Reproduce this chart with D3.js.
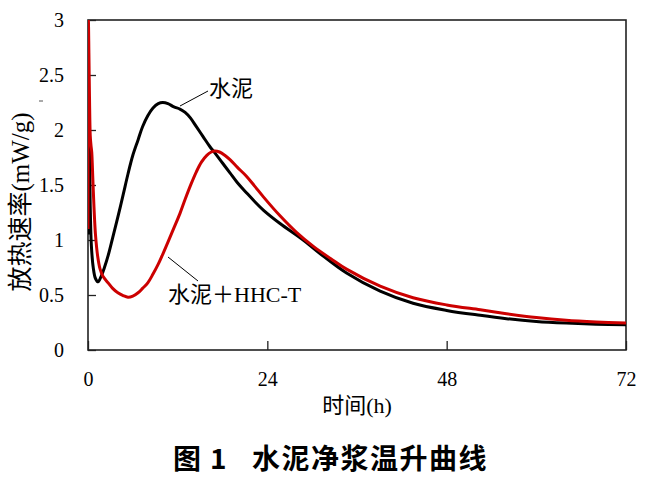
<!DOCTYPE html>
<html><head><meta charset="utf-8">
<script src="https://cdn.jsdelivr.net/npm/d3@7"></script>
<style>body{margin:0;background:#fff}svg{display:block}</style>
</head><body>
<script>
const xTicks = [0, 24, 48, 72];
const yTicks = [0, 0.5, 1, 1.5, 2, 2.5, 3];
const yTickLabels = ["0", "0.5", "1", "1.5", "2", "2.5", "3"];
const seriesNames = ["水泥", "水泥＋HHC-T"];
const cementT = [0, 0.1, 0.2, 0.3, 0.45, 0.7, 1.0, 1.35, 1.7, 2.2, 2.7, 3.3, 4.0, 4.7, 5.35, 6.0, 6.7, 7.3, 8.0, 8.7, 9.4, 10.0, 10.7, 11.5, 12.3, 13.0, 13.7, 14.5, 15.4, 16.3, 17.0, 18.0, 19.0, 20.0, 21.2, 22.3, 23.5, 25.7, 28.8, 31, 34.6, 39.1, 43.5, 48, 52.5, 56, 60, 64, 68, 72];
const cementV = [1.05, 1.4, 1.86, 1.3, 0.95, 0.75, 0.65, 0.62, 0.66, 0.75, 0.86, 1.02, 1.21, 1.41, 1.6, 1.77, 1.91, 2.03, 2.13, 2.2, 2.24, 2.25, 2.24, 2.21, 2.19, 2.16, 2.11, 2.03, 1.94, 1.85, 1.79, 1.70, 1.61, 1.52, 1.43, 1.35, 1.27, 1.15, 1.0, 0.88, 0.70, 0.535, 0.425, 0.36, 0.315, 0.285, 0.26, 0.245, 0.235, 0.23];
const hhcT = [0, 0.05, 0.12, 0.2, 0.3, 0.4, 0.5, 0.65, 0.8, 1.0, 1.3, 1.6, 2.0, 2.7, 3.3, 4.0, 4.7, 5.35, 6.0, 6.7, 7.3, 8.0, 8.7, 9.4, 10.0, 10.7, 11.5, 12.3, 13.0, 13.8, 14.5, 15.2, 15.9, 16.5, 17.0, 17.6, 18.3, 19.0, 20.0, 21.2, 22.3, 23.5, 25.7, 27.9, 30.2, 32.5, 34.6, 39.1, 43.5, 48, 52.5, 56, 60, 64, 68, 72];
const hhcV = [1.1, 3.0, 2.7, 2.3, 1.95, 1.86, 1.8, 1.55, 1.3, 1.05, 0.85, 0.74, 0.67, 0.61, 0.56, 0.52, 0.495, 0.48, 0.49, 0.52, 0.56, 0.61, 0.69, 0.78, 0.87, 0.98, 1.11, 1.24, 1.37, 1.51, 1.62, 1.71, 1.77, 1.80, 1.81, 1.80, 1.77, 1.73, 1.66, 1.58, 1.49, 1.39, 1.22, 1.07, 0.94, 0.83, 0.735, 0.58, 0.475, 0.41, 0.365, 0.33, 0.295, 0.27, 0.255, 0.245];

const W = 648, H = 483;
const m = {l: 88, t: 20, r: 22, b: 133};
const iw = W - m.l - m.r, ih = H - m.t - m.b;
const svg = d3.select("body").append("svg").attr("width", W).attr("height", H);
const x = d3.scaleLinear().domain([0, 72]).range([0, iw]);
const y = d3.scaleLinear().domain([0, 3]).range([ih, 0]);
const g = svg.append("g").attr("transform", `translate(${m.l},${m.t})`);
const serif = "'Liberation Serif','Times New Roman','Noto Sans CJK SC',serif";
const cjk = "'Noto Sans CJK SC',sans-serif";

g.append("clipPath").attr("id", "c").append("rect").attr("width", iw).attr("height", ih);

// axes
const yAx = g.append("g").call(d3.axisLeft(y).tickValues(yTicks).tickSizeInner(-8).tickSizeOuter(0).tickPadding(24)
  .tickFormat((d, i) => yTickLabels[i]));
const xAx = g.append("g").attr("transform", `translate(0,${ih})`)
  .call(d3.axisBottom(x).tickValues(xTicks).tickSizeInner(-9).tickSizeOuter(0).tickPadding(22));
[yAx, xAx].forEach(a => {
  a.selectAll("text").attr("font-family", serif).attr("font-size", 20).attr("fill", "#000");
  a.selectAll("line").attr("stroke", "#222").attr("stroke-width", 1.3);
  a.select(".domain").remove();
});
g.append("rect").attr("width", iw).attr("height", ih).attr("fill", "none").attr("stroke", "#222").attr("stroke-width", 1.6);

const line = d3.line().x(d => x(d[0])).y(d => y(d[1])).curve(d3.curveCatmullRom.alpha(0.5));
const cementData = cementT.map((t, i) => [t, cementV[i]]);
const hhcData = hhcT.map((t, i) => [t, hhcV[i]]);
g.append("path").datum(cementData).attr("d", line).attr("fill", "none").attr("stroke", "#000").attr("stroke-width", 3).attr("stroke-linejoin", "round").attr("clip-path", "url(#c)");
g.append("path").datum(hhcData).attr("d", line).attr("fill", "none").attr("stroke", "#cc0000").attr("stroke-width", 3).attr("stroke-linejoin", "round").attr("clip-path", "url(#c)");

// leaders and labels
svg.append("line").attr("x1", 180).attr("y1", 106).attr("x2", 208).attr("y2", 91).attr("stroke", "#000").attr("stroke-width", 1);
svg.append("line").attr("x1", 168).attr("y1", 257).attr("x2", 198).attr("y2", 281).attr("stroke", "#000").attr("stroke-width", 1);
svg.append("text").attr("x", 209).attr("y", 96).attr("font-family", serif).attr("font-size", 22).text(seriesNames[0]);
svg.append("text").attr("x", 168).attr("y", 302).attr("font-family", serif).attr("font-size", 22).text(seriesNames[1]);

// axis titles
svg.append("text").attr("x", (m.l + W - m.r) / 2).attr("y", 413).attr("text-anchor", "middle")
  .attr("font-family", serif).attr("font-size", 22).text("时间(h)");
svg.append("text").attr("transform", "translate(29,202) rotate(-90)").attr("text-anchor", "middle")
  .attr("font-family", serif).attr("font-size", 25).text("放热速率(mW/g)");
svg.append("line").attr("x1", 39).attr("x2", 43).attr("y1", 101).attr("y2", 101).attr("stroke", "#555").attr("stroke-width", 1);

// caption
svg.append("text").attr("x", 173).attr("y", 469).attr("font-family", cjk).attr("font-weight", 700).attr("font-size", 28).text("图");
svg.append("text").attr("x", 210).attr("y", 469).attr("font-family", cjk).attr("font-weight", 700).attr("font-size", 28).text("1");
svg.append("text").attr("x", 252).attr("y", 469).attr("font-family", cjk).attr("font-weight", 700).attr("font-size", 28)
  .attr("letter-spacing", 1.5).text("水泥净浆温升曲线");
</script>
</body></html>
